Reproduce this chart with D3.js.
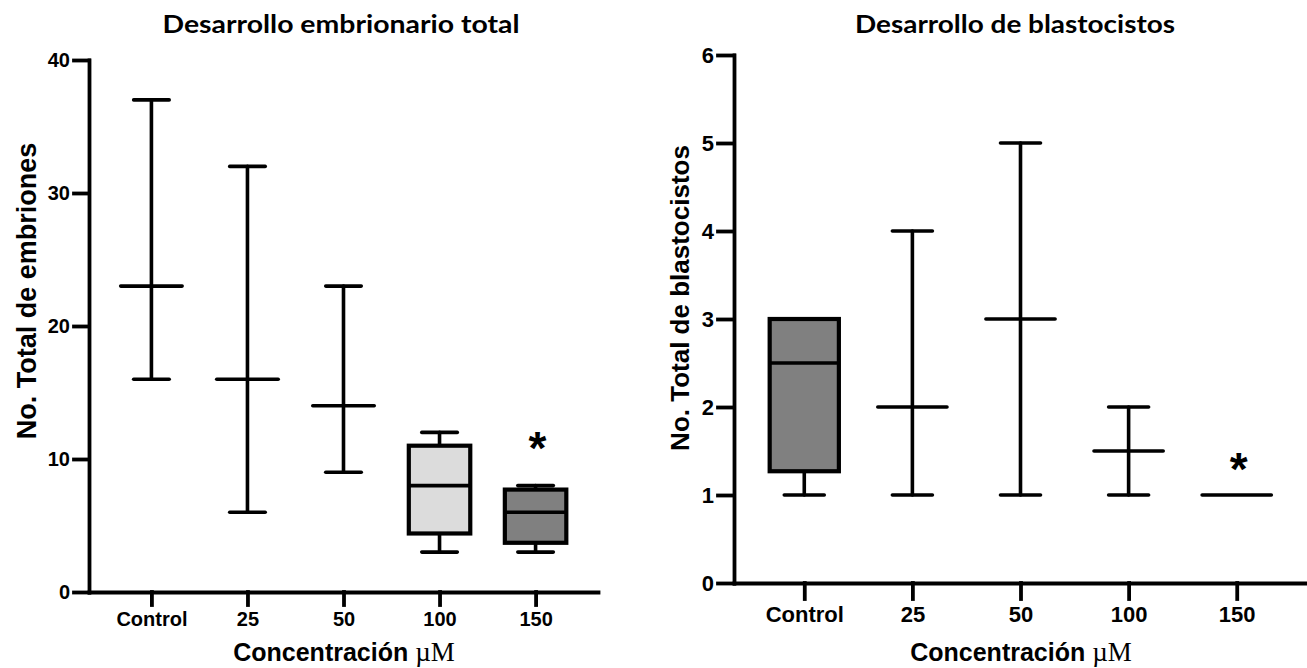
<!DOCTYPE html>
<html>
<head>
<meta charset="utf-8">
<script src="https://cdn.jsdelivr.net/npm/d3@7"></script>
<style>
  body { margin: 0; background: #fff; }
  svg { display: block; }
  .tick text { font-family: "Liberation Sans", Arial, sans-serif; font-weight: bold; fill: #000; }
</style>
</head>
<body>
<script>
'use strict';

// categories (x axis)
const categories = ["Control", "25", "50", "100", "150"];

// left: total embryos (min, Q1, median, Q3, max)
const embMin = [16, 6, 9, 3, 3];
const embQ1 = [23, 16, 14, 4.4, 3.7];
const embMed = [23, 16, 14, 8, 6];
const embQ3 = [23, 16, 14, 11, 7.7];
const embMax = [37, 32, 23, 12, 8];
const embTicks = [0, 10, 20, 30, 40];
const embSig = ["", "", "", "", "*"];
const embSigY = [0, 0, 0, 0, 11.2];

// right: blastocysts
const blaMin = [1, 1, 1, 1, 1];
const blaQ1 = [1.27, 2, 3, 1.5, 1];
const blaMed = [2.5, 2, 3, 1.5, 1];
const blaQ3 = [3, 2, 3, 1.5, 1];
const blaMax = [3, 4, 5, 2, 1];
const blaTicks = [0, 1, 2, 3, 4, 5, 6];
const blaSig = ["", "", "", "", "*"];
const blaSigY = [0, 0, 0, 0, 1.35];

// box fills per chart
const embFill = [null, null, null, "#dcdcdc", "#808080"];
const blaFill = ["#808080", null, null, null, null];

let width = 1307;
let height = 668;

let svg = d3.select('body')
  .append('svg')
  .attr('width', width)
  .attr('height', height);

function makeRows(mn, q1, md, q3, mx, fill, sig, sigY) {
  return categories.map((c, i) => ({
    cat: c, min: mn[i], q1: q1[i], med: md[i], q3: q3[i], max: mx[i],
    fill: fill[i], sig: sig[i], sigY: sigY[i]
  }));
}

function drawChart(opt) {
  let g = svg.append('g');
  let xScale = d3.scalePoint()
    .domain(categories)
    .range([opt.x0, opt.x1])
    .padding(0.65);
  let yScale = d3.scaleLinear()
    .domain([0, opt.yMax])
    .range([opt.y0, opt.y1]);
  let step = xScale.step();
  let boxW = step * 0.64;
  let capW = step * 0.37;
  let sw = 3.6;

  // axes
  let xAxis = g.append('g')
    .attr('transform', 'translate(0,' + opt.y0 + ')')
    .call(d3.axisBottom(xScale).tickSize(opt.xTick).tickSizeOuter(0).tickPadding(7));
  xAxis.selectAll('text').style('font-size', opt.xFont + 'px');

  let yAxis = g.append('g')
    .attr('transform', 'translate(' + opt.x0 + ',0)')
    .call(d3.axisLeft(yScale).tickValues(opt.ticks).tickFormat(d3.format('d'))
      .tickSize(opt.yTick).tickSizeOuter(0).tickPadding(4));
  yAxis.selectAll('text').style('font-size', opt.yFont + 'px');

  g.selectAll('.domain, .tick line')
    .attr('stroke', '#000')
    .attr('stroke-width', 3.8)
    .attr('stroke-linecap', 'square');

  // boxes / whiskers
  let rows = g.selectAll('.grp')
    .data(opt.rows)
    .enter()
    .append('g')
    .attr('class', 'grp');

  rows.each(function(d) {
    let sel = d3.select(this);
    let cx = xScale(d.cat);
    let hasBox = d.q3 > d.q1;
    let line = (x1, y1, x2, y2) => sel.append('line')
      .attr('x1', x1).attr('y1', y1).attr('x2', x2).attr('y2', y2)
      .attr('stroke', '#000').attr('stroke-width', sw).attr('stroke-linecap', 'round');

    if (d.max > d.min) line(cx, yScale(d.min), cx, yScale(d.max));
    if (d.min < d.q1) line(cx - capW / 2, yScale(d.min), cx + capW / 2, yScale(d.min));
    if (d.max > d.q3) line(cx - capW / 2, yScale(d.max), cx + capW / 2, yScale(d.max));

    if (hasBox) {
      sel.append('rect')
        .attr('x', cx - boxW / 2)
        .attr('y', yScale(d.q3))
        .attr('width', boxW)
        .attr('height', yScale(d.q1) - yScale(d.q3))
        .attr('fill', d.fill)
        .attr('stroke', '#000')
        .attr('stroke-width', sw + 0.6);
      line(cx - boxW / 2, yScale(d.med), cx + boxW / 2, yScale(d.med)).attr('stroke-linecap', 'butt');
    } else {
      line(cx - boxW / 2, yScale(d.med), cx + boxW / 2, yScale(d.med));
    }

    if (d.sig) {
      sel.append('text')
        .attr('x', cx + 2)
        .attr('y', yScale(d.sigY) + 21)
        .attr('text-anchor', 'middle')
        .style('font-family', '"Liberation Sans", Arial, sans-serif')
        .style('font-weight', 'bold')
        .style('font-size', '46px')
        .text(d.sig);
    }
  });

  // title
  svg.append('text')
    .attr('x', opt.titleX)
    .attr('y', 33)
    .attr('text-anchor', 'middle')
    .attr('textLength', opt.titleW)
    .attr('lengthAdjust', 'spacingAndGlyphs')
    .style('font-family', 'Lato, "Open Sans", sans-serif')
    .style('font-weight', 'bold')
    .style('font-size', '24px')
    .text(opt.title);

  // y label
  svg.append('text')
    .attr('transform', 'translate(' + opt.yLabX + ',' + opt.yLabY + ')rotate(-90)')
    .attr('text-anchor', 'middle')
    .style('font-family', '"Liberation Sans", Arial, sans-serif')
    .style('font-weight', 'bold')
    .style('font-size', opt.yLabFont + 'px')
    .text(opt.yLabel);

  // x label
  let xl = svg.append('text')
    .attr('x', opt.xLabX)
    .attr('y', 661)
    .attr('text-anchor', 'middle')
    .style('font-family', '"Liberation Sans", Arial, sans-serif')
    .style('font-weight', 'bold')
    .style('font-size', '25px');
  xl.append('tspan').text('Concentración ');
  xl.append('tspan')
    .style('font-family', '"Liberation Serif", "Times New Roman", serif')
    .style('font-weight', 'normal')
    .style('font-size', '27px')
    .text('µM');
}

drawChart({
  rows: makeRows(embMin, embQ1, embMed, embQ3, embMax, embFill, embSig, embSigY),
  x0: 89, x1: 598, y0: 592, y1: 60, yMax: 40, ticks: embTicks,
  xTick: 13, yTick: 15, xFont: 20, yFont: 20,
  title: 'Desarrollo embrionario total', titleX: 341, titleW: 357,
  yLabel: 'No. Total de embriones', yLabX: 36, yLabY: 291, yLabFont: 27,
  xLabX: 344
});

drawChart({
  rows: makeRows(blaMin, blaQ1, blaMed, blaQ3, blaMax, blaFill, blaSig, blaSigY),
  x0: 734, x1: 1307, y0: 583, y1: 55, yMax: 6, ticks: blaTicks,
  xTick: 16, yTick: 16, xFont: 22, yFont: 22,
  title: 'Desarrollo de blastocistos', titleX: 1015, titleW: 320,
  yLabel: 'No. Total de blastocistos', yLabX: 689, yLabY: 298, yLabFont: 26,
  xLabX: 1021
});
</script>
</body>
</html>
